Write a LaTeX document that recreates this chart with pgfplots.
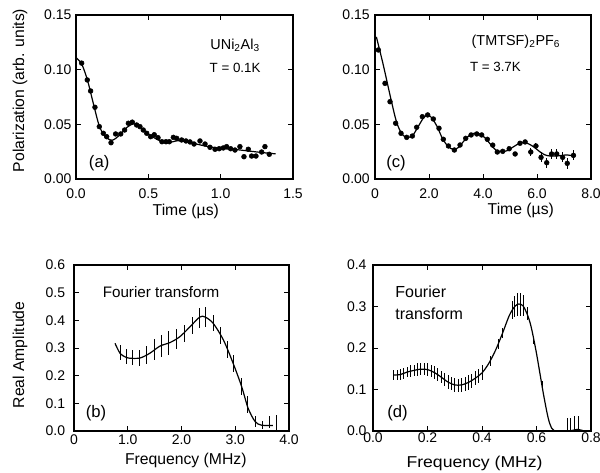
\documentclass[border=0pt]{standalone}
\usepackage{pgfplots}
\pgfplotsset{compat=1.18}
\usepackage{fontspec}
\setmainfont{Liberation Sans}
\usepackage{graphicx}

\pgfplotsset{
  myax/.style={
    scale only axis,
    axis line style={line width=0.8pt},
    tick style={black, line width=0.7pt},
    major tick length=3.5pt,
    tick align=inside,
    tick label style={font=\fontsize{10.5}{12}\selectfont, inner sep=0pt},
    label style={font=\fontsize{11.8}{13}\selectfont},
    xticklabel style={anchor=base},
    yticklabel style={anchor=east},
    clip=false,
  },
}

\begin{document}
\begin{tikzpicture}
\path[use as bounding box] (0,0) rectangle (450pt,354pt);

% ---------------- (a)
\begin{axis}[myax,
  at={(57pt,219.75pt)}, anchor=south west,
  width=162.75pt, height=123pt,
  xmin=0, xmax=1.5, ymin=0, ymax=0.15,
  xtick={0,0.5,1.0,1.5}, xticklabels={0.0,0.5,1.0,1.5},
  ytick={0,0.05,0.10,0.15}, yticklabels={0.00,0.05,0.10,0.15},
  xticklabel style={yshift=-14.25pt},
  yticklabel style={xshift=-3.2pt},
  xlabel={Time (µs)},
  xlabel style={at={(axis description cs:0.506,0)}, anchor=center, yshift=-24.5pt},
  ylabel={Polarization (arb. units)},
  ylabel style={at={(axis description cs:-0.258,0.54)}, anchor=center},
]
\addplot[black, line width=0.9pt, smooth] coordinates {
(0,0.111) (0.04,0.105) (0.08,0.090) (0.12,0.069) (0.16,0.049) (0.2,0.039)
(0.25,0.0355) (0.3,0.040) (0.35,0.047) (0.4,0.0505) (0.45,0.047) (0.5,0.041)
(0.55,0.037) (0.6,0.034) (0.65,0.0335) (0.7,0.035) (0.75,0.0345) (0.8,0.033)
(0.9,0.030) (1.0,0.028) (1.1,0.027) (1.2,0.0255) (1.3,0.024) (1.38,0.023)};
\addplot[black, only marks, mark=*, mark size=1.8pt] coordinates {
(0.039,0.106) (0.078,0.0906) (0.101,0.0805) (0.131,0.0656) (0.161,0.0479)
(0.189,0.0418) (0.212,0.0387) (0.242,0.0332) (0.274,0.0412) (0.309,0.0412)
(0.336,0.0448) (0.362,0.0510) (0.389,0.0520) (0.419,0.0494) (0.442,0.0479)
(0.465,0.0448) (0.489,0.0418) (0.516,0.0387) (0.541,0.0405) (0.567,0.0378)
(0.594,0.0341) (0.622,0.0341) (0.645,0.0341) (0.673,0.0381) (0.696,0.0372)
(0.730,0.0357) (0.760,0.0348) (0.788,0.0339) (0.816,0.0320) (0.857,0.0348)
(0.892,0.0320) (0.926,0.0290) (0.961,0.0272) (0.990,0.0277) (1.018,0.0284)
(1.041,0.0296) (1.069,0.0277) (1.099,0.0265) (1.133,0.0296) (1.161,0.0204)
(1.191,0.0272) (1.214,0.0210) (1.244,0.0210) (1.283,0.0247) (1.306,0.0296)
(1.336,0.0226)};
\node[font=\fontsize{10.8}{12}\selectfont] at (axis cs:1.10,0.1226) {UNi\textsubscript{2}Al\textsubscript{3}};
\node[font=\fontsize{10}{12}\selectfont] at (axis cs:1.10,0.1016) {T = 0.1K};
\node[font=\fontsize{12.5}{14}\selectfont] at (axis cs:0.16,0.0146) {(a)};
\end{axis}

% ---------------- (c)
\begin{axis}[myax,
  at={(281.25pt,219.75pt)}, anchor=south west,
  width=162pt, height=123pt,
  xmin=0, xmax=8, ymin=0, ymax=0.15,
  xtick={0,2,4,6,8}, xticklabels={0,2.0,4.0,6.0,8.0},
  ytick={0,0.05,0.10,0.15}, yticklabels={0.00,0.05,0.10,0.15},
  xticklabel style={yshift=-14.25pt},
  yticklabel style={xshift=-3.75pt},
  xlabel={Time (µs)},
  xlabel style={at={(axis description cs:0.675,0)}, anchor=center, yshift=-23.8pt},
]
\addplot[black, line width=0.9pt, smooth] coordinates {
(0.05,0.130) (0.3,0.105) (0.6,0.072) (0.8,0.052) (1.0,0.041) (1.2,0.038)
(1.4,0.040) (1.6,0.048) (1.8,0.056) (1.95,0.0585) (2.1,0.056) (2.3,0.048)
(2.5,0.037) (2.7,0.030) (2.9,0.027) (3.1,0.029) (3.3,0.035) (3.5,0.040)
(3.7,0.042) (3.9,0.041) (4.1,0.037) (4.3,0.031) (4.5,0.026) (4.7,0.025)
(4.9,0.026) (5.1,0.029) (5.3,0.032) (5.5,0.0335) (5.7,0.032) (5.9,0.029)
(6.1,0.025) (6.3,0.022) (6.5,0.021) (6.7,0.021) (6.9,0.0215) (7.1,0.022) (7.4,0.021)};
\addplot[black, only marks, mark=*, mark size=1.8pt,
  error bars/.cd, y dir=both, y explicit, error mark=none,
  error bar style={line width=0.7pt}]
  table[x index=0, y index=1, y error index=2] {
0.123 0.118 0
0.37 0.0875 0
0.556 0.0707 0
0.765 0.051 0
0.963 0.0418 0
1.173 0.0381 0
1.383 0.0393 0
1.543 0.0473 0
1.753 0.057 0
1.95 0.0586 0
2.16 0.0549 0
2.37 0.0464 0
2.53 0.0363 0
2.72 0.0302 0
2.94 0.0265 0
3.15 0.0311 0
3.36 0.0372 0
3.56 0.0403 0
3.77 0.0412 0
3.95 0.0403 0
4.16 0.0363 0
4.36 0.031 0
4.53 0.0247 0
4.73 0.0253 0
4.97 0.0277 0
5.19 0.0229 0
5.37 0.0327 0
5.56 0.0339 0
5.77 0.0247 0.0035
5.96 0.0302 0.003
6.15 0.0198 0.0045
6.36 0.0149 0.0046
6.54 0.0229 0.0045
6.73 0.0229 0.0045
6.95 0.0198 0.0046
7.12 0.0143 0.0048
7.35 0.0216 0.0046
};
\node[font=\fontsize{10.8}{12}\selectfont] at (axis cs:5.22,0.1256) {(TMTSF)\textsubscript{2}PF\textsubscript{6}};
\node[font=\fontsize{10}{12}\selectfont] at (axis cs:4.46,0.1027) {T = 3.7K};
\node[font=\fontsize{12.5}{14}\selectfont] at (axis cs:0.78,0.0146) {(c)};
\end{axis}

% ---------------- (b)
\begin{axis}[myax,
  at={(55.5pt,30.75pt)}, anchor=south west,
  width=161.25pt, height=124.5pt,
  xmin=0, xmax=4, ymin=0, ymax=0.6,
  xtick={0,1,2,3,4}, xticklabels={0,1.0,2.0,3.0,4.0},
  ytick={0,0.1,0.2,0.3,0.4,0.5,0.6}, yticklabels={0.0,0.1,0.2,0.3,0.4,0.5,0.6},
  xticklabel style={yshift=-10pt},
  yticklabel style={xshift=-6.5pt},
  xlabel={Frequency (MHz)},
  xlabel style={at={(axis description cs:0.52,0)}, anchor=center, yshift=-21.75pt},
  ylabel={Real Amplitude},
  ylabel style={at={(axis description cs:-0.251,0.458)}, anchor=center},
]
\addplot[black, line width=0.9pt, smooth] coordinates {
(0.763,0.317) (0.856,0.281) (0.95,0.268) (1.04,0.263) (1.23,0.264) (1.41,0.281)
(1.60,0.307) (1.79,0.320) (1.97,0.341) (2.16,0.377) (2.34,0.412) (2.44,0.412)
(2.59,0.389) (2.78,0.329) (2.96,0.245) (3.12,0.160) (3.24,0.082) (3.37,0.034)
(3.49,0.021) (3.70,0.020)};
\addplot[black, draw=none, mark=none,
  error bars/.cd, y dir=both, y explicit, error mark=none,
  error bar style={line width=0.6pt}]
  table[x index=0, y index=1, y error index=2] {
0.87 0.283 0.027
0.97 0.270 0.027
1.09 0.264 0.027
1.21 0.264 0.030
1.35 0.275 0.033
1.49 0.293 0.038
1.62 0.308 0.040
1.75 0.318 0.042
1.90 0.332 0.035
2.05 0.352 0.030
2.21 0.382 0.030
2.33 0.410 0.036
2.44 0.413 0.036
2.59 0.390 0.030
2.73 0.345 0.030
2.86 0.295 0.030
2.96 0.245 0.030
3.12 0.160 0.030
3.22 0.095 0.030
3.37 0.034 0.020
3.50 0.022 0.015
3.63 0.034 0.022
3.76 0.031 0.027
};
\node[font=\fontsize{11.4}{13}\selectfont] at (axis cs:1.62,0.503) {Fourier transform};
\node[font=\fontsize{12.5}{14}\selectfont] at (axis cs:0.41,0.064) {(b)};
\end{axis}

% ---------------- (d)
\begin{axis}[myax,
  at={(279.75pt,30.75pt)}, anchor=south west,
  width=163.5pt, height=124.5pt,
  xmin=0, xmax=0.8, ymin=0, ymax=0.4,
  xtick={0,0.2,0.4,0.6,0.8}, xticklabels={0.0,0.2,0.4,0.6,0.8},
  ytick={0,0.1,0.2,0.3,0.4}, yticklabels={0.0,0.1,0.2,0.3,0.4},
  xticklabel style={yshift=-8.25pt},
  yticklabel style={xshift=-4.7pt},
  xlabel={\scalebox{1.12}[1]{Frequency (MHz)}},
  xlabel style={at={(axis description cs:0.466,0)}, anchor=center, yshift=-24.25pt},
]
\addplot[black, line width=0.9pt, smooth] coordinates {
(0.075,0.135) (0.10,0.136) (0.125,0.142) (0.15,0.146) (0.175,0.149) (0.20,0.148)
(0.225,0.141) (0.25,0.130) (0.275,0.118) (0.30,0.111) (0.325,0.111) (0.35,0.117)
(0.375,0.127) (0.40,0.140) (0.425,0.163) (0.45,0.195) (0.475,0.235) (0.50,0.278)
(0.52,0.300) (0.535,0.306) (0.55,0.302) (0.565,0.283) (0.58,0.252) (0.60,0.187)
(0.625,0.091) (0.643,0.031) (0.656,0.0065) (0.668,0.0)};
\addplot[black, line width=0.9pt] coordinates {
(0.668,0.0) (0.72,0.0) (0.735,0.002) (0.75,0.004) (0.765,0.002) (0.775,0.0)};
\addplot[black, draw=none, mark=none,
  error bars/.cd, y dir=both, y explicit, error mark=none,
  error bar style={line width=0.5pt}]
  table[x index=0, y index=1, y error index=2] {
0.075 0.135 0.012
0.0875 0.134 0.012
0.10 0.136 0.013
0.1125 0.139 0.013
0.125 0.142 0.013
0.1375 0.144 0.014
0.15 0.146 0.014
0.1625 0.148 0.015
0.175 0.149 0.015
0.1875 0.149 0.015
0.20 0.148 0.015
0.2125 0.145 0.015
0.225 0.141 0.015
0.2375 0.136 0.015
0.25 0.130 0.015
0.2625 0.124 0.015
0.275 0.118 0.016
0.2875 0.114 0.016
0.30 0.111 0.016
0.3125 0.110 0.016
0.325 0.111 0.016
0.3375 0.113 0.016
0.35 0.117 0.017
0.3625 0.121 0.017
0.375 0.127 0.017
0.3875 0.133 0.017
0.40 0.140 0.018
0.43 0.168 0.012
0.46 0.210 0.012
0.475 0.235 0.012
0.51 0.292 0.022
0.52 0.300 0.026
0.53 0.305 0.028
0.54 0.305 0.028
0.55 0.302 0.025
0.565 0.283 0.015
0.59 0.220 0.010
0.62 0.110 0.010
0.715 0.016 0.016
0.725 0.016 0.016
0.74 0.018 0.017
0.755 0.020 0.017
};
\node[font=\fontsize{12}{14}\selectfont, anchor=west] at (axis cs:0.065,0.336) {Fourier};
\node[font=\fontsize{12}{14}\selectfont, anchor=west] at (axis cs:0.065,0.282) {transform};
\node[font=\fontsize{12.5}{14}\selectfont] at (axis cs:0.09,0.043) {(d)};
\end{axis}
\end{tikzpicture}
\end{document}
